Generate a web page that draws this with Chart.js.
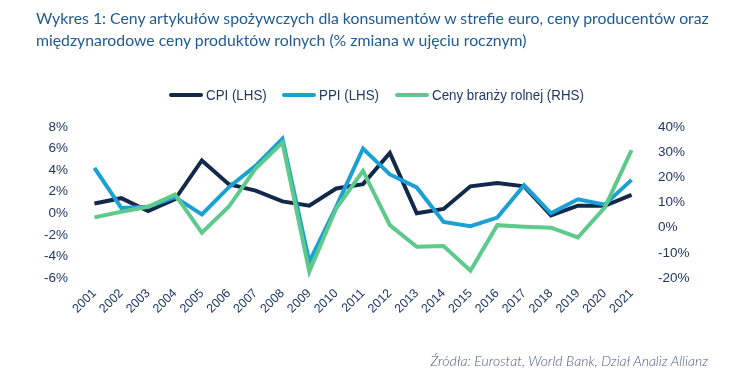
<!DOCTYPE html>
<html>
<head>
<meta charset="utf-8">
<script src="https://cdn.jsdelivr.net/npm/chart.js@4"></script>
<style>
  html,body{margin:0;padding:0;background:#fff;}
  #wrap{position:relative;width:743px;height:383px;overflow:hidden;}
  #title{position:absolute;left:36px;top:7px;font-family:Lato,sans-serif;font-size:15.8px;line-height:22px;color:#1F5A94;white-space:nowrap;}
  #legend{position:absolute;left:0;top:86px;width:743px;height:18px;font-family:"Liberation Sans",Arial,sans-serif;font-size:15.5px;color:#1F3864;}
  .item{position:absolute;top:0;height:18px;display:flex;align-items:center;}
  .swatch{width:34px;height:4px;border-radius:2px;margin-right:3px;flex:none;}
  .item span{display:inline-block;transform:scaleX(0.86);transform-origin:left center;white-space:nowrap;}
  #source{position:absolute;right:35px;top:352px;font-family:Lato,sans-serif;font-style:italic;font-weight:300;font-size:14px;color:#4A5F80;white-space:nowrap;}
  canvas{position:absolute;left:0;top:0;}
</style>
</head>
<body>
<div id="wrap">
  <canvas id="c" width="743" height="383"></canvas>
  <div id="title">Wykres 1: Ceny artykułów spożywczych dla konsumentów w strefie euro, ceny producentów oraz<br>międzynarodowe ceny produktów rolnych (% zmiana w ujęciu rocznym)</div>
  <div id="legend"></div>
  <div id="source">Źródła: Eurostat, World Bank, Dział Analiz Allianz</div>
</div>
<script>
const years = ["2001","2002","2003","2004","2005","2006","2007","2008","2009","2010","2011","2012","2013","2014","2015","2016","2017","2018","2019","2020","2021"];
const cpi = [0.9,1.4,0.2,1.3,4.9,2.7,2.1,1.1,0.7,2.3,2.7,5.6,0.0,0.4,2.5,2.8,2.5,-0.2,0.7,0.7,1.7];
const ppi = [4.2,0.5,0.6,1.5,-0.1,2.4,4.4,6.9,-4.5,0.6,6.0,3.6,2.4,-0.8,-1.2,-0.4,2.6,0.0,1.3,0.8,3.1];
const agri = [4.1,6.3,8.3,13.2,-2.0,8.3,23.5,33.8,-17.5,7.6,22.6,1.0,-7.6,-7.3,-17.1,1.0,0.4,0.0,-3.9,8.0,30.8];
const seriesNames = ["CPI (LHS)","PPI (LHS)","Ceny branży rolnej (RHS)"];
const seriesColors = ["#13294B","#1BA0D4","#5DC98B"];
const leftTicks = [-6,-4,-2,0,2,4,6,8];
const rightTicks = [-20,-10,0,10,20,30,40];

const tickColor = "#1F3864";
const datasets = [cpi, ppi, agri].map((d,i)=>({
  label: seriesNames[i],
  data: d,
  borderColor: seriesColors[i],
  backgroundColor: seriesColors[i],
  borderWidth: 4,
  pointRadius: 0,
  tension: 0,
  borderJoinStyle: 'miter',
  yAxisID: i===2 ? 'y1' : 'y',
  order: 2-i
}));

const legendX = [169, 282, 395];
const leg = document.getElementById('legend');
seriesNames.forEach((n,i)=>{
  const it=document.createElement('div');it.className='item';it.style.left=legendX[i]+'px';
  const sw=document.createElement('div');sw.className='swatch';sw.style.background=seriesColors[i];
  const tx=document.createElement('span');tx.textContent=n;
  it.appendChild(sw);it.appendChild(tx);leg.appendChild(it);
});

new Chart(document.getElementById('c'),{
  type:'line',
  data:{labels:years,datasets:datasets},
  options:{
    responsive:false,
    animation:false,
    layout:{padding:{top:127,left:0,right:0,bottom:0}},
    plugins:{legend:{display:false},tooltip:{enabled:false}},
    scales:{
      x:{
        offset:true,
        grid:{display:false,drawTicks:false},
        border:{display:false},
        ticks:{color:tickColor,font:{family:'Liberation Sans, Arial, sans-serif',size:12.5},minRotation:45,maxRotation:45,padding:8,autoSkip:false},
        afterFit:s=>{s.height=105;}
      },
      y:{
        position:'left',min:-6,max:8,
        afterBuildTicks:s=>{s.ticks=leftTicks.map(v=>({value:v}));},
        grid:{display:false,drawTicks:false},
        border:{display:false},
        ticks:{color:tickColor,font:{family:'Liberation Sans, Arial, sans-serif',size:13.5},padding:13,callback:v=>v+'%'},
        afterFit:s=>{s.width=81;}
      },
      y1:{
        position:'right',min:-20,max:40,
        afterBuildTicks:s=>{s.ticks=rightTicks.map(v=>({value:v}));},
        grid:{display:false,drawTicks:false},
        border:{display:false},
        ticks:{color:tickColor,font:{family:'Liberation Sans, Arial, sans-serif',size:13.5},padding:13,callback:v=>v+'%'},
        afterFit:s=>{s.width=98;}
      }
    }
  }
});
</script>
</body>
</html>
